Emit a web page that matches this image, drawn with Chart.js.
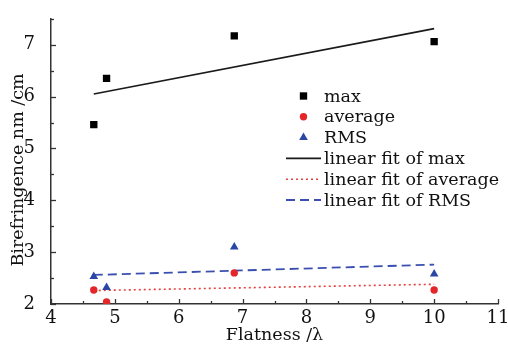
<!DOCTYPE html>
<html>
<head>
<meta charset="utf-8">
<script src="https://cdn.jsdelivr.net/npm/chart.js@4/dist/chart.umd.min.js"></script>
<style>
  html, body { margin: 0; padding: 0; background: #fff; }
  #wrap { width: 508px; height: 346px; }
</style>
</head>
<body>
<div id="wrap"><canvas id="grafica"></canvas></div>
<script>
// datos
const flatness = [4.67, 4.87, 6.87, 10.0];
const maxVals = [5.46, 6.35, 7.17, 7.06];
const avgVals = [2.27, 2.04, 2.60, 2.27];
const rmsVals = [2.53, 2.32, 3.10, 2.58];

// extremos de los ajustes lineales
const fitX = [4.67, 10.0];
const fitMax = [6.05, 7.31];
const fitAvg = [2.26, 2.38];
const fitRms = [2.56, 2.76];

const tituloY = 'Birefringence nm /cm';
const tituloX = 'Flatness /λ';

const toXY = (xs, ys) => xs.map((x, i) => ({ x: x, y: ys[i] }));
const fuente = "'DejaVu Serif', serif";

// marcas de escala hacia dentro (mayores y menores) y titulo del eje Y
const ticksDentro = {
    id: 'ticksDentro',
    afterDraw(chart) {
        const ctx = chart.ctx;
        const area = chart.chartArea;
        ctx.save();
        ctx.strokeStyle = '#333';
        ctx.lineWidth = 1.3;
        chart.scales.x.ticks.forEach(t => {
            const px = Math.round(chart.scales.x.getPixelForValue(t.value)) + 0.5;
            const len = Number.isInteger(t.value) ? 5 : 3;
            ctx.beginPath();
            ctx.moveTo(px, area.bottom);
            ctx.lineTo(px, area.bottom - len);
            ctx.stroke();
        });
        chart.scales.y.ticks.forEach(t => {
            const py = Math.round(chart.scales.y.getPixelForValue(t.value)) + 0.5;
            const len = Number.isInteger(t.value) ? 5 : 3;
            ctx.beginPath();
            ctx.moveTo(area.left, py);
            ctx.lineTo(area.left + len, py);
            ctx.stroke();
        });
        // titulo Y un poco mas abajo que el centro del area
        ctx.translate(18, 170);
        ctx.rotate(-Math.PI / 2);
        ctx.font = '17.5px ' + fuente;
        ctx.fillStyle = '#111';
        ctx.textAlign = 'center';
        ctx.textBaseline = 'middle';
        ctx.fillText(tituloY, 0, 0);
        ctx.restore();
    }
};

// leyenda dentro del area del grafico
const leyenda = {
    id: 'leyenda',
    afterDraw(chart) {
        const ctx = chart.ctx;
        const x0 = 286, x1 = 321, xt = 324, y0 = 96, paso = 20.8;
        ctx.save();
        ctx.font = '17.5px ' + fuente;
        ctx.textBaseline = 'middle';
        ctx.fillStyle = '#111';
        chart.data.datasets.forEach((ds, i) => {
            const y = y0 + i * paso;
            if (ds.showLine) {
                ctx.save();
                ctx.strokeStyle = ds.borderColor;
                ctx.lineWidth = ds.borderWidth;
                ctx.setLineDash(ds.borderDash || []);
                ctx.beginPath();
                ctx.moveTo(x0, y);
                ctx.lineTo(x1, y);
                ctx.stroke();
                ctx.restore();
            } else {
                ctx.save();
                ctx.fillStyle = ds.backgroundColor;
                ctx.strokeStyle = ds.backgroundColor;
                Chart.helpers.drawPoint(ctx, {
                    pointStyle: ds.pointStyle,
                    radius: ds.pointRadius,
                    borderWidth: 0,
                    rotation: 0
                }, (x0 + x1) / 2, y);
                ctx.restore();
            }
            ctx.fillText(ds.label, xt, y + 1);
        });
        ctx.restore();
    }
};

const puntos = (label, ys, estilo, color, radio) => ({
    label: label,
    data: toXY(flatness, ys),
    showLine: false,
    pointStyle: estilo,
    pointRadius: radio,
    pointBorderWidth: 0,
    backgroundColor: color,
    borderColor: color
});

const ajuste = (label, ys, color, ancho, guiones) => ({
    label: label,
    data: toXY(fitX, ys),
    showLine: true,
    pointRadius: 0,
    borderColor: color,
    borderWidth: ancho,
    borderDash: guiones,
    backgroundColor: color
});

new Chart(document.getElementById('grafica'), {
    type: 'scatter',
    data: {
        datasets: [
            puntos('max', maxVals, 'rect', '#000000', 5.2),
            puntos('average', avgVals, 'circle', '#e3262a', 3.7),
            puntos('RMS', rmsVals, 'triangle', '#2a47a6', 5),
            ajuste('linear fit of max', fitMax, '#1a1a1a', 1.6, []),
            ajuste('linear fit of average', fitAvg, '#e34040', 1.6, [2, 3]),
            ajuste('linear fit of RMS', fitRms, '#3a4fb0', 1.8, [9, 5])
        ]
    },
    options: {
        responsive: true,
        maintainAspectRatio: false,
        animation: false,
        layout: { padding: { top: 16, right: 10, left: 0, bottom: 0 } },
        plugins: { legend: { display: false }, tooltip: { enabled: false } },
        scales: {
            x: {
                type: 'linear',
                min: 4, max: 11,
                afterFit: (s) => { s.height = 42; },
                grid: { display: false },
                border: { display: true, color: '#333', width: 1.5 },
                ticks: {
                    stepSize: 0.5,
                    autoSkip: false,
                    maxRotation: 0,
                    padding: -4,
                    color: '#111',
                    font: { family: fuente, size: 18 },
                    callback: (v) => Number.isInteger(v) ? v : ''
                },
                title: {
                    display: true,
                    text: tituloX,
                    color: '#111',
                    font: { family: fuente, size: 17.5 },
                    padding: { top: 0, bottom: 0 }
                }
            },
            y: {
                type: 'linear',
                min: 2, max: 7.5,
                afterFit: (s) => { s.width = 51; },
                grid: { display: false },
                border: { display: true, color: '#333', width: 1.5 },
                ticks: {
                    stepSize: 0.5,
                    autoSkip: false,
                    padding: 8,
                    color: '#111',
                    font: { family: fuente, size: 18 },
                    callback: (v) => Number.isInteger(v) ? v : ''
                },
                title: { display: false }
            }
        }
    },
    plugins: [ticksDentro, leyenda]
});
</script>
</body>
</html>
